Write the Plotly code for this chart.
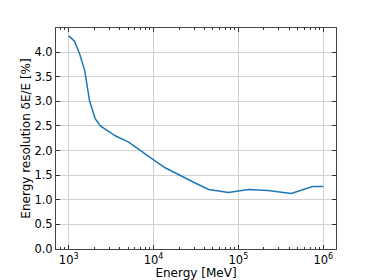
import plotly.graph_objects as go

energy_mev = [1000, 1170, 1340, 1540, 1760, 2050, 2360, 3540, 5080, 7310, 10000,
              13700, 21600, 30900, 44700, 76400, 130900, 224000, 420000, 750000, 1000000]
resolution_pct = [4.33, 4.22, 3.97, 3.63, 3.01, 2.65, 2.50, 2.30, 2.17, 1.97, 1.81,
                  1.65, 1.47, 1.34, 1.21, 1.15, 1.21, 1.19, 1.13, 1.27, 1.27]

x_major = [1e3, 1e4, 1e5, 1e6]
x_major_text = ["10<sup>3</sup>", "10<sup>4</sup>", "10<sup>5</sup>", "10<sup>6</sup>"]
x_minor = [m * 10 ** d for d in (2, 3, 4, 5, 6) for m in range(2, 10)]

fig = go.Figure(go.Scatter(x=energy_mev, y=resolution_pct, mode="lines",
                           line=dict(color="#1f77b4", width=1.5)))

font = dict(family="DejaVu Sans", size=11.5, color="black")
title_font = dict(family="DejaVu Sans", size=12, color="black")
fig.update_layout(
    width=374, height=280,
    margin=dict(l=56, r=38, t=28, b=31),
    paper_bgcolor="white", plot_bgcolor="white",
    showlegend=False, font=font,
)
fig.update_xaxes(
    type="log", range=[2.85, 6.15], automargin=False,
    tickmode="array", tickvals=x_major, ticktext=x_major_text,
    ticks="inside", ticklen=4, tickcolor="#333", tickfont=font,
    showline=True, linecolor="#444", linewidth=1, mirror="ticks",
    showgrid=True, gridcolor="#d0d0d0", gridwidth=1,
    minor=dict(tickmode="array", tickvals=x_minor, ticks="inside", ticklen=2,
               tickcolor="#333", showgrid=False),
    title=dict(text="Energy [MeV]", standoff=1, font=title_font),
    zeroline=False,
)
fig.update_yaxes(
    range=[0, 4.49], automargin=False,
    tickmode="linear", tick0=0, dtick=0.5, tickformat=".1f",
    ticks="inside", ticklen=4, tickcolor="#333", tickfont=font,
    showline=True, linecolor="#444", linewidth=1, mirror="ticks",
    showgrid=True, gridcolor="#d0d0d0", gridwidth=1,
    title=dict(text="Energy resolution δE/E [%]", standoff=1, font=title_font),
    zeroline=False,
)
fig.write_html("out.html", config={"displayModeBar": False},
               post_script="document.body.style.margin='0';")
